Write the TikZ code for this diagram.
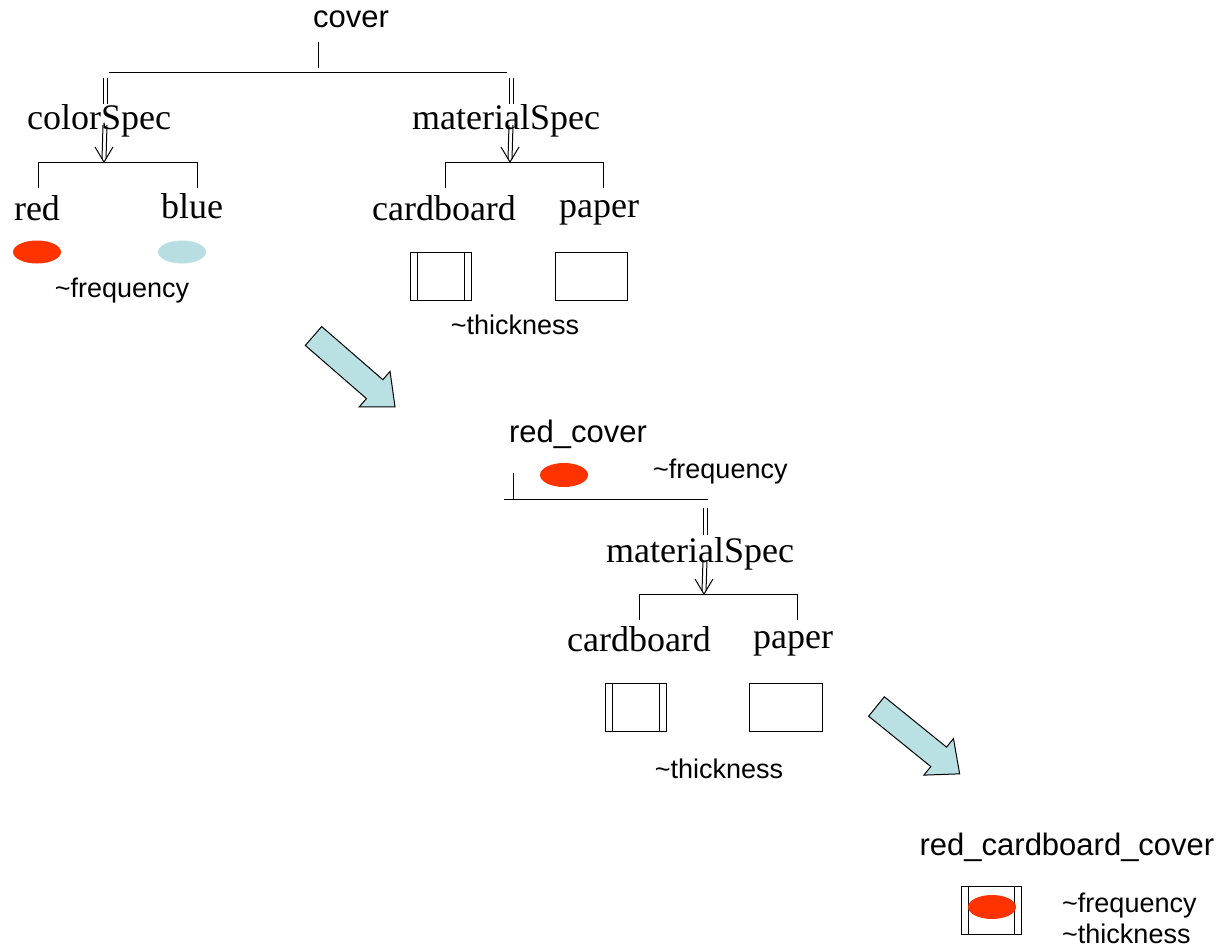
\documentclass[tikz,border=0pt]{standalone}
\usepackage{fontspec}
\setmainfont{Liberation Serif}
\setsansfont{Liberation Sans}
\definecolor{spotred}{HTML}{FF3300}
\definecolor{spotblue}{HTML}{B9DEE2}
\definecolor{arrowfill}{HTML}{B9E0E3}
\begin{document}
\begin{tikzpicture}[x=1pt,y=-1pt,
  every node/.style={inner sep=0pt},
  spec/.style={font=\fontsize{36}{36}\selectfont, anchor=base},
  title/.style={font=\sffamily\fontsize{31}{31}\selectfont, anchor=base},
  note/.style={font=\sffamily\fontsize{27}{27}\selectfont, anchor=base},
  wire/.style={line width=1pt},
  spot/.style={draw=none},
  sheet/.style={draw, line width=1pt},
  bigarrow/.style={draw, line width=1pt, fill=arrowfill, line join=miter}]
\useasboundingbox (0,0) rectangle (1221,948);

% ---------- double bar and double-shafted arrow ----------
\newcommand{\dbar}[2]{%
  \draw[wire] ([xshift=-2pt]#1) -- ([xshift=-2pt]#2);
  \draw[wire] ([xshift=2pt]#1) -- ([xshift=2pt]#2);}
\newcommand{\darrow}[2]{%
  \draw[wire] ([xshift=-2pt]#1) -- ([xshift=-2pt,yshift=3pt]#2);
  \draw[wire] ([xshift=2pt]#1) -- ([xshift=2pt,yshift=3pt]#2);
  \draw[wire] ([xshift=-9pt,yshift=15pt]#2) -- (#2) -- ([xshift=9pt,yshift=15pt]#2);}

% ---------- block arrow ----------
\newcommand{\blockarrow}[3]{%
  \begin{scope}[shift={#1}, rotate=#2]
    \draw[bigarrow] (0,-12.5) -- (#3-27,-12.5) -- (#3-27,-23.5) -- (#3,0)
      -- (#3-27,23.5) -- (#3-27,12.5) -- (0,12.5) -- cycle;
  \end{scope}}

% ================= first tree =================
\node[title] (cover) at (351,27) {cover};
\coordinate (coverstem) at (318,42);
\coordinate (coverjoin) at (318,68);
\coordinate (topL) at (109,72);
\coordinate (topR) at (507,72);
\draw[wire] (coverstem) -- (coverjoin);
\draw[wire] (topL) -- (topR);

% colorSpec branch
\coordinate (csbarA) at (105,78);
\coordinate (csbarB) at (105,104);
\coordinate (csarrA) at (105,125);
\coordinate (csarrB) at (104,162);
\dbar{csbarA}{csbarB}
\darrow{csarrA}{csarrB}
\node[spec] (colorSpec) at (99,129) {colorSpec};

\coordinate (cbL) at (38,162);
\coordinate (cbR) at (197,162);
\draw[wire] ([yshift=-26pt]cbL) -- (cbL) -- (cbR) -- ([yshift=-26pt]cbR);
\node[spec] (red) at (37,220) {red};
\node[spec] (blue) at (192,218) {blue};
\fill[spotred, spot] (37,252) ellipse [x radius=24, y radius=11.5];
\fill[spotblue, spot] (182,252) ellipse [x radius=24, y radius=11.5];
\node[note] (freq1) at (122,297) {\char`~frequency};

% materialSpec branch
\coordinate (msbarA) at (511,78);
\coordinate (msbarB) at (511,104);
\coordinate (msarrA) at (511,125);
\coordinate (msarrB) at (510,162);
\dbar{msbarA}{msbarB}
\darrow{msarrA}{msarrB}
\node[spec] (materialSpec) at (506,129) {materialSpec};

\coordinate (mbL) at (445,162);
\coordinate (mbR) at (603,162);
\draw[wire] ([yshift=-26pt]mbL) -- (mbL) -- (mbR) -- ([yshift=-26pt]mbR);
\node[spec] (cardboard) at (444,220) {cardboard};
\node[spec] (paper) at (599,217) {paper};
\draw[sheet] (410,252) rectangle (471,300);
\draw[wire] (417,252) -- (417,300);
\draw[wire] (464,252) -- (464,300);
\draw[sheet] (555,252) rectangle (627,300);
\node[note] (thick1) at (515,334) {\char`~thickness};

% ---------- first transformation arrow ----------
\blockarrow{(313.5,336)}{-41}{108}

% ================= second tree =================
\node[title] (redcover) at (578,442) {red\_cover};
\fill[spotred, spot] (564,475) ellipse [x radius=24, y radius=12];
\node[note, anchor=base west] (freq2) at (653,478) {\char`~frequency};
\coordinate (rcstem) at (513,473);
\coordinate (rcL) at (504,499);
\coordinate (rcR) at (708,499);
\draw[wire] (rcstem) -- (rcstem |- rcL);
\draw[wire] (rcL) -- (rcR);

\coordinate (ms2barA) at (705,508);
\coordinate (ms2barB) at (705,535);
\coordinate (ms2arrA) at (705,560);
\coordinate (ms2arrB) at (704,594);
\dbar{ms2barA}{ms2barB}
\darrow{ms2arrA}{ms2arrB}
\node[spec] (materialSpec2) at (700,562) {materialSpec};

\coordinate (m2L) at (639,594);
\coordinate (m2R) at (797,594);
\draw[wire] ([yshift=-26pt]m2L) -- (m2L) -- (m2R) -- ([yshift=-26pt]m2R);
\node[spec] (cardboard2) at (639,651) {cardboard};
\node[spec] (paper2) at (793,648) {paper};
\draw[sheet] (605,683) rectangle (666,731);
\draw[wire] (612,683) -- (612,731);
\draw[wire] (659,683) -- (659,731);
\draw[sheet] (749,683) rectangle (822,731);
\node[note] (thick2) at (719,778) {\char`~thickness};

% ---------- second transformation arrow ----------
\blockarrow{(876.5,706.5)}{-39}{107}

% ================= result =================
\node[title] (rcc) at (1067,855) {red\_cardboard\_cover};
\draw[sheet] (961,886) rectangle (1021,934);
\draw[wire] (968,886) -- (968,934);
\draw[wire] (1014,886) -- (1014,934);
\fill[spotred, spot] (992,907) ellipse [x radius=24, y radius=12];
\node[note, anchor=base west] (freq3) at (1062,912) {\char`~frequency};
\node[note, anchor=base west] (thick3) at (1062,943) {\char`~thickness};
\end{tikzpicture}
\end{document}
